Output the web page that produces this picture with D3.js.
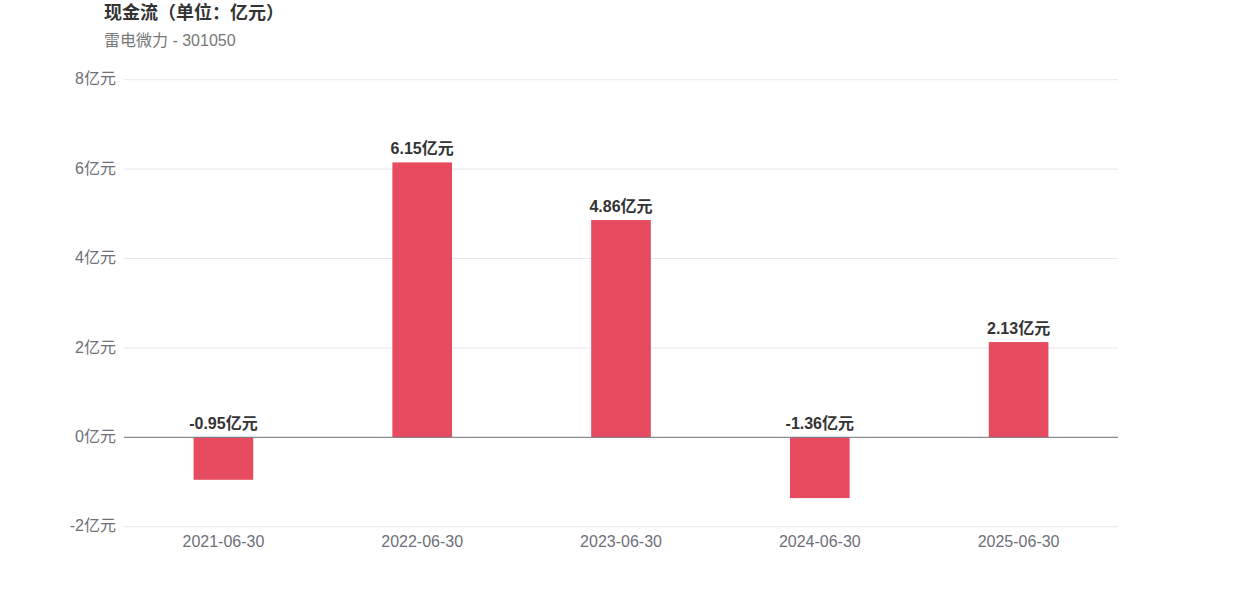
<!DOCTYPE html>
<html><head><meta charset="utf-8">
<script src="https://cdn.jsdelivr.net/npm/d3@7"></script>
<style>body{margin:0;background:#fff;font-family:"Liberation Sans","Noto Sans CJK SC",sans-serif;}</style>
</head><body><svg id="c" width="1242" height="596"></svg>
<script>
const categories = ["2021-06-30","2022-06-30","2023-06-30","2024-06-30","2025-06-30"];
const values = [-0.95, 6.15, 4.86, -1.36, 2.13];
const yTicks = [-2, 0, 2, 4, 6, 8];
const title = "现金流（单位：亿元）";
const subtitle = "雷电微力 - 301050";

const svg = d3.select("#c");
const font = '"Liberation Sans","Noto Sans CJK SC",sans-serif';
const x = d3.scaleBand().domain(categories).range([124, 1118]).paddingInner(0).paddingOuter(0);
const y = d3.scaleLinear().domain([-2, 8]).range([526.7, 79.7]);
const bw = x.bandwidth() * 0.3;

svg.append("text").attr("x", 104).attr("y", 19).attr("font-size", 18).attr("font-weight", "bold")
  .attr("fill", "#333").attr("font-family", font).text(title);
svg.append("text").attr("x", 104).attr("y", 46).attr("font-size", 16)
  .attr("fill", "#777").attr("font-family", font).text(subtitle);

// grid
svg.append("g").selectAll("line").data(yTicks.filter(d => d !== 0)).join("line")
  .attr("x1", 124).attr("x2", 1118).attr("y1", d => y(d)).attr("y2", d => y(d))
  .attr("stroke", "#e6e8f0").attr("stroke-width", 1);

const yAxis = svg.append("g").attr("transform", "translate(124,-1)")
  .call(d3.axisLeft(y).tickValues(yTicks).tickSize(0).tickPadding(8).tickFormat(d => d + "亿元"));
yAxis.select(".domain").remove();
yAxis.selectAll("text").attr("font-size", 16).attr("fill", "#6e7079").attr("font-family", font);

// bars
svg.append("g").selectAll("rect").data(values).join("rect")
  .attr("x", (d, i) => x(categories[i]) + (x.bandwidth() - bw) / 2)
  .attr("width", bw)
  .attr("y", d => y(Math.max(0, d)))
  .attr("height", d => Math.abs(y(d) - y(0)))
  .attr("fill", "#e64b5f");

// zero line
svg.append("line").attr("x1", 124).attr("x2", 1118).attr("y1", y(0)).attr("y2", y(0))
  .attr("stroke", "#6e7079").attr("stroke-width", 1);

// x axis labels
const xAxis = svg.append("g").attr("transform", `translate(0,${y(-2) - 1})`)
  .call(d3.axisBottom(x).tickSize(0).tickPadding(10));
xAxis.select(".domain").remove();
xAxis.selectAll("text").attr("font-size", 16).attr("fill", "#6e7079").attr("font-family", font);

// value labels
svg.append("g").selectAll("text").data(values).join("text")
  .attr("x", (d, i) => x(categories[i]) + x.bandwidth() / 2)
  .attr("y", d => y(Math.max(0, d)) - 8)
  .attr("text-anchor", "middle").attr("font-size", 16).attr("font-weight", "bold")
  .attr("fill", "#333").attr("font-family", font)
  .text(d => d.toFixed(2) + "亿元");
</script></body></html>
